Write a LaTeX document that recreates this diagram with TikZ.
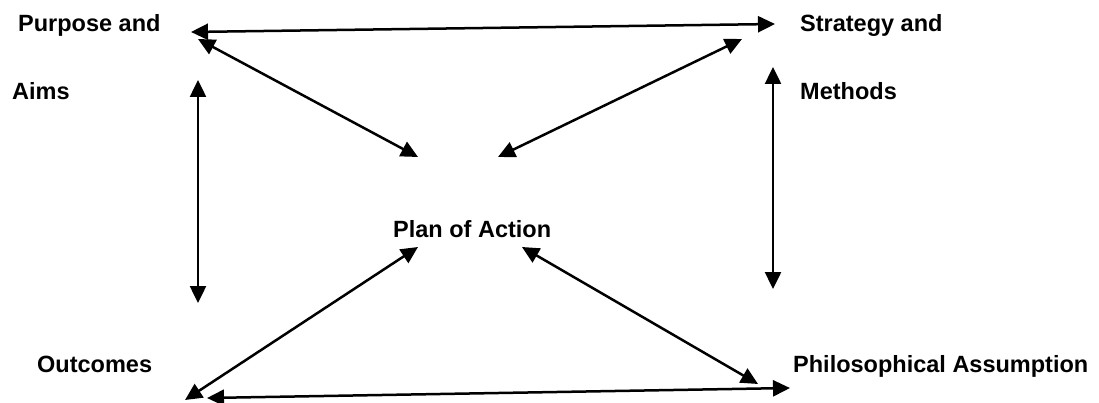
\documentclass[tikz,border=0pt]{standalone}
\usepackage{fontspec}
\setmainfont{Liberation Sans}
\usetikzlibrary{arrows.meta}
\begin{document}
\begin{tikzpicture}[x=1pt,y=-1pt,
  lbl/.style={anchor=base west,inner sep=0pt,font=\fontsize{23.5}{27}\selectfont\bfseries},
  link/.style={line width=2.5pt,{Triangle[length=17pt,width=16pt]}-{Triangle[length=17pt,width=16pt]}}]
\useasboundingbox (0,0) rectangle (1099,403);
\node[lbl] (pa) at (18,32) {Purpose and};
\node[lbl] (aims) at (12,100) {Aims};
\node[lbl] (sa) at (800,32) {Strategy and};
\node[lbl] (meth) at (800,100) {Methods};
\node[lbl] (plan) at (393,237) {Plan of Action};
\node[lbl] (out) at (37,372) {Outcomes};
\node[lbl] (phil) at (793,372) {Philosophical Assumption};
% endpoints
\coordinate (t1) at (191,32);
\coordinate (t2) at (775,24);
\coordinate (pl) at (198,39);
\coordinate (c1) at (418,157);
\coordinate (sr) at (742,39);
\coordinate (c2) at (498,157);
\coordinate (v1a) at (198,80);
\coordinate (v1b) at (198,303);
\coordinate (v2a) at (773,67);
\coordinate (v2b) at (773,289);
\coordinate (c3) at (418,247);
\coordinate (ob) at (185,400);
\coordinate (c4) at (522,247);
\coordinate (pb) at (758,384);
\coordinate (b1) at (207,398);
\coordinate (b2) at (790,388);
\draw[link] (t1) -- (t2);
\draw[link] (pl) -- (c1);
\draw[link] (sr) -- (c2);
\draw[link] (v1a) -- (v1b);
\draw[link] (v2a) -- (v2b);
\draw[link] (c3) -- (ob);
\draw[link] (c4) -- (pb);
\draw[link] (b1) -- (b2);
\end{tikzpicture}
\end{document}
